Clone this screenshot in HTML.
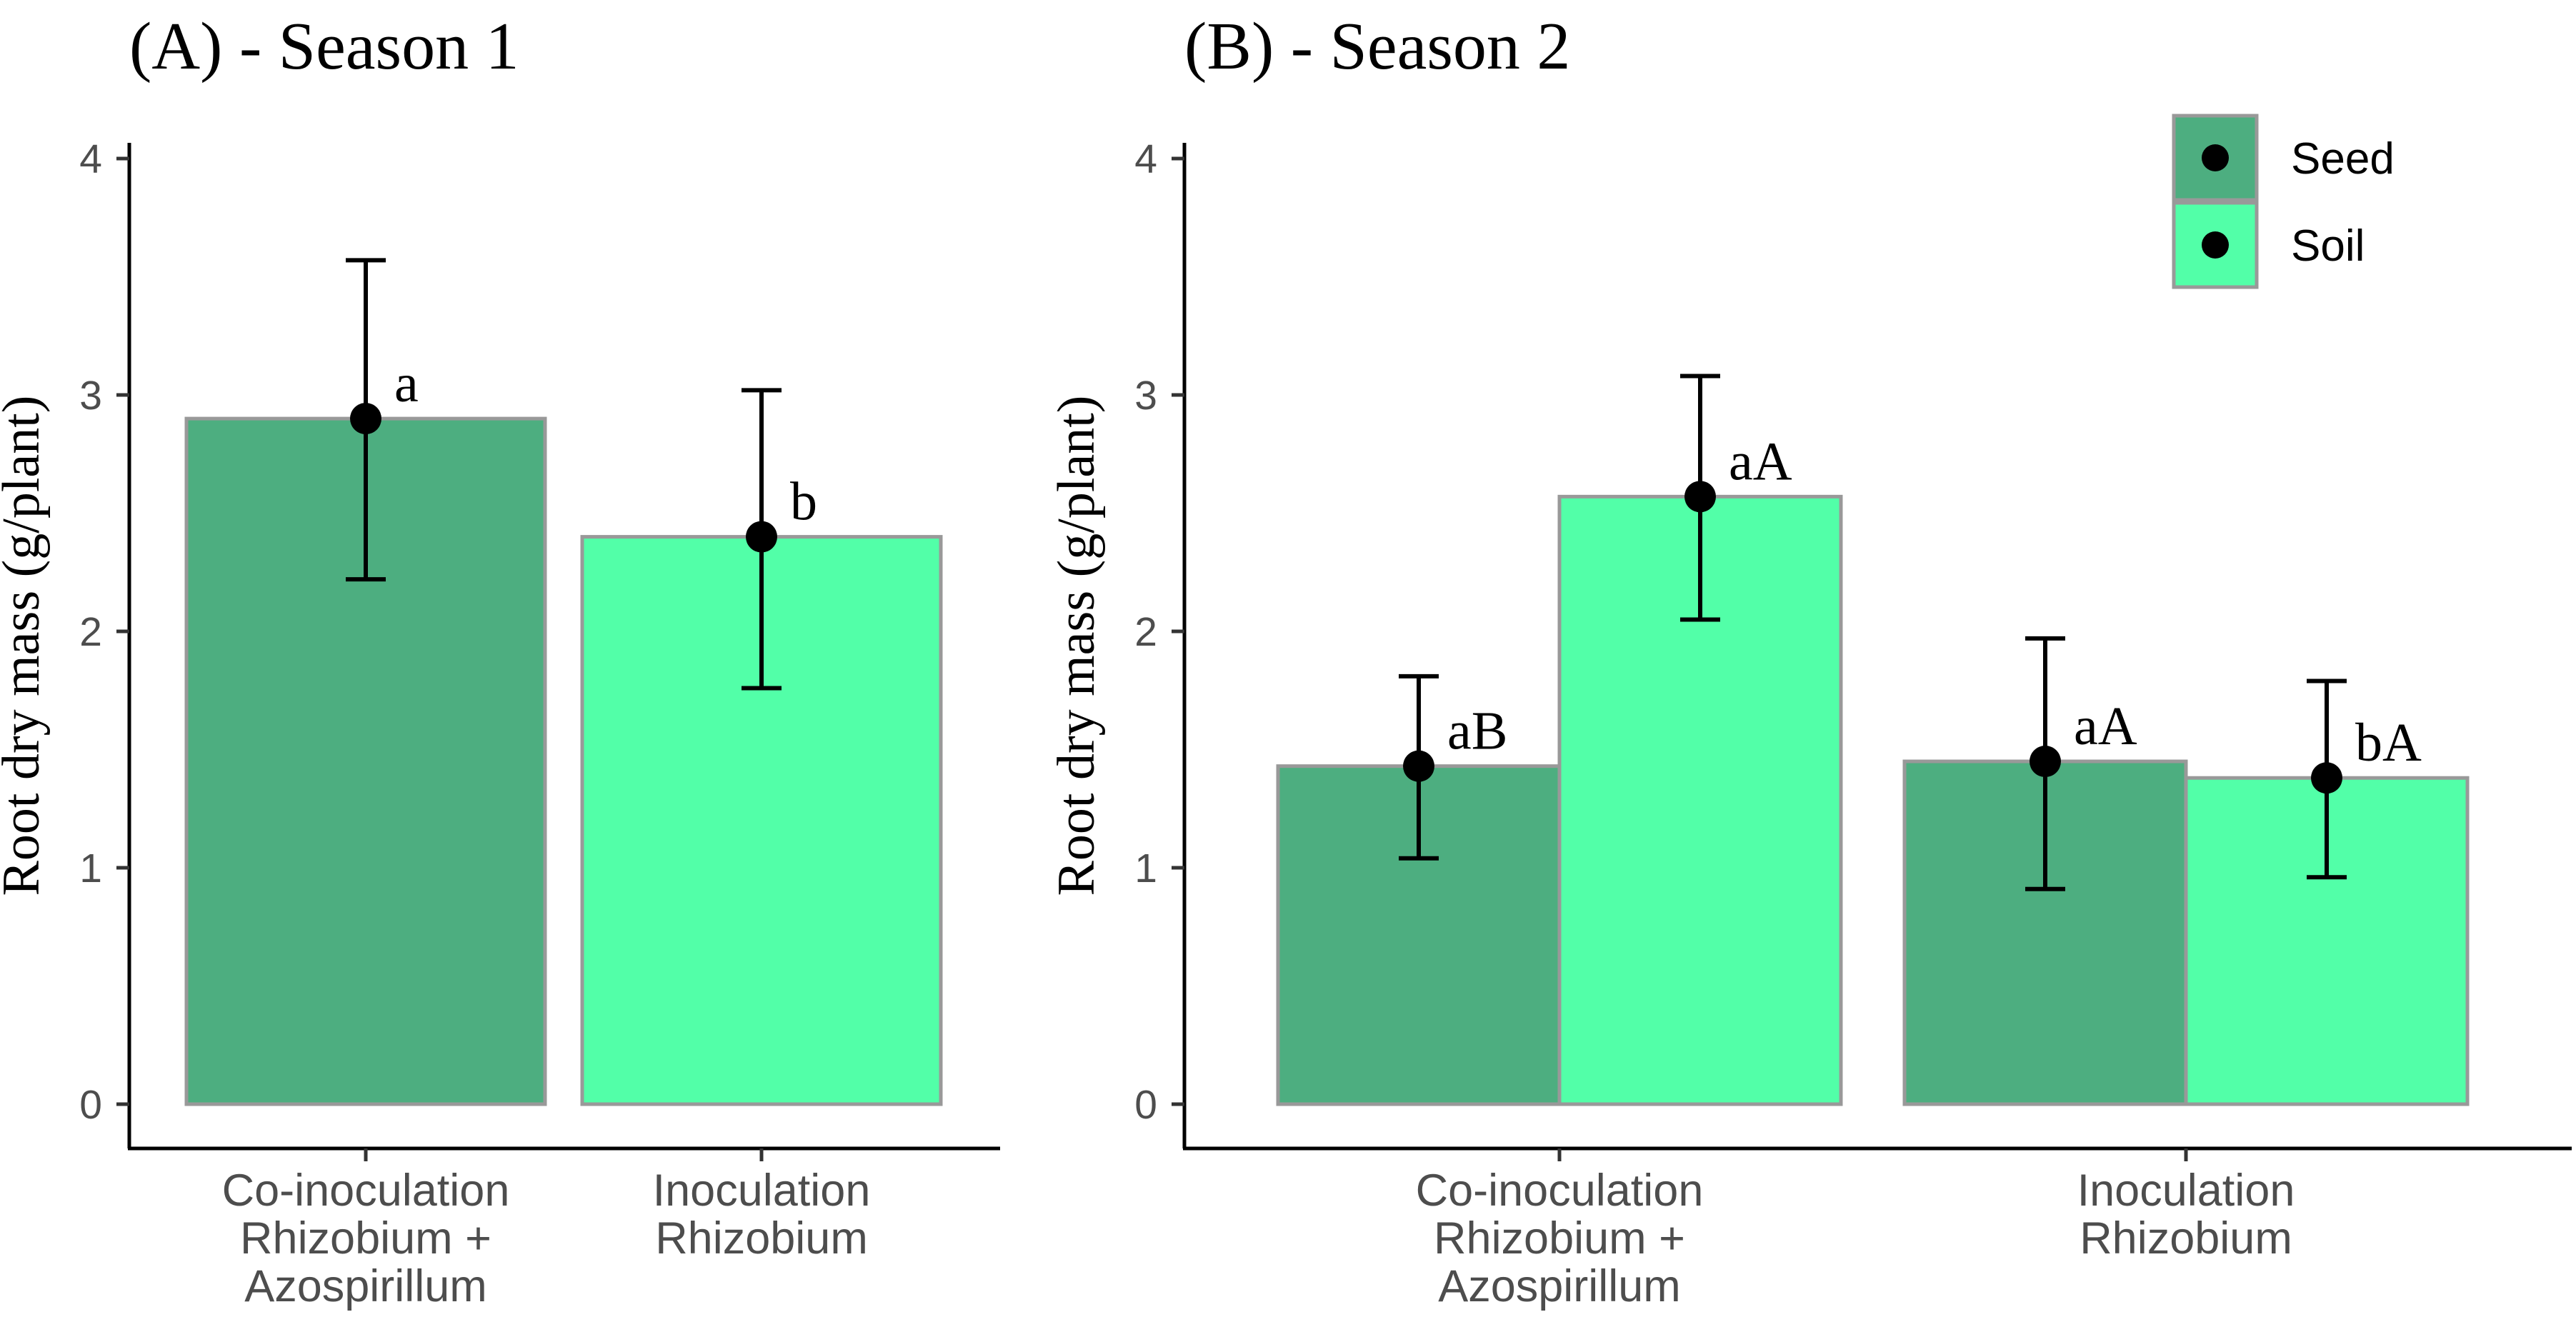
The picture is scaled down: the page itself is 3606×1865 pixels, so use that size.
<!DOCTYPE html>
<html><head><meta charset="utf-8"><style>
html,body{margin:0;padding:0;background:#fff;}
svg{display:block;}
.tick{font-family:"Liberation Sans",sans-serif;font-size:57px;fill:#4d4d4d;}
.xl{font-family:"Liberation Sans",sans-serif;font-size:63px;fill:#4d4d4d;}
.ttl{font-family:"Liberation Serif",serif;font-size:94px;fill:#000;}
.yt{font-family:"Liberation Serif",serif;font-size:74px;fill:#000;}
.lt{font-family:"Liberation Serif",serif;font-size:76px;fill:#000;}
.leg{font-family:"Liberation Sans",sans-serif;font-size:62px;fill:#000;}
</style></head><body>
<svg id="chart" width="3606" height="1865" viewBox="0 0 3606 1865" xmlns="http://www.w3.org/2000/svg"></svg>
<script>
const yTicks=[0,1,2,3,4];
const catsA=["Co-inoculation|Rhizobium +|Azospirillum","Inoculation|Rhizobium"];
const meanA=[2.9,2.4];
const lowA=[2.22,1.76];
const highA=[3.57,3.02];
const lettersA=["a","b"];
const seriesA=["Seed","Soil"];
const catsB=["Co-inoculation|Rhizobium +|Azospirillum","Inoculation|Rhizobium"];
const seedB=[1.43,1.45];
const soilB=[2.57,1.38];
const seedLowB=[1.04,0.91];
const seedHighB=[1.81,1.97];
const soilLowB=[2.05,0.96];
const soilHighB=[3.08,1.79];
const seedLetB=["aB","aA"];
const soilLetB=["aA","bA"];
const legendItems=["Seed","Soil"];
const COL={Seed:"#4dae80",Soil:"#52ffa8"};
const svg=document.getElementById('chart');
const NS="http://www.w3.org/2000/svg";
function mk(tag,attrs,parent,name,inter){const e=document.createElementNS(NS,tag);for(const k in attrs)e.setAttribute(k,attrs[k]);


(parent||svg).appendChild(e);return e;}
const Y0=1546,Y4=222;
function y(v){return Y0-(Y0-Y4)*v/4;}

function panel(ax,axEnd,title,catCenters,cats,prefix){
  const g=mk('g',{},svg,prefix+'-panel',false);
  const t=mk('text',{x:ax,y:96,class:'ttl'},g,prefix+'-title',false);t.textContent=title;
  const yt=mk('text',{x:0,y:0,class:'yt','text-anchor':'middle',transform:`translate(${ax-127},${(Y0+Y4)/2+20}) rotate(-90)`},g,'y-axis-title',false);yt.textContent="Root dry mass (g/plant)";
  mk('line',{x1:ax,y1:200,x2:ax,y2:1608,stroke:'#000','stroke-width':5},g,'y-axis-line',false);
  mk('line',{x1:ax-2,y1:1608,x2:axEnd,y2:1608,stroke:'#000','stroke-width':5},g,'x-axis-line',false);
  yTicks.forEach(v=>{
    mk('line',{x1:ax-18,y1:y(v),x2:ax,y2:y(v),stroke:'#333','stroke-width':5},g,'y-tick',false);
    const tl=mk('text',{x:ax-38,y:y(v)+20,class:'tick','text-anchor':'end'},g,'y-tick-label',false);tl.textContent=v;
  });
  cats.forEach((c,i)=>{
    const cx=catCenters[i];
    mk('line',{x1:cx,y1:1608,x2:cx,y2:1626,stroke:'#333','stroke-width':5},g,'x-tick',false);
    c.split('|').forEach((ln,j)=>{
      const tl=mk('text',{x:cx,y:1688+j*67,class:'xl','text-anchor':'middle'},g,'x-tick-label',false);tl.textContent=ln;
    });
  });
  return g;
}
function bar(g,x0,x1,v,color,name){mk('rect',{x:x0,y:y(v),width:x1-x0,height:Y0-y(v),fill:color,stroke:'#999','stroke-width':5},g,name,false);}
function err(g,cx,m,lo,hi,letter,name){
  mk('line',{x1:cx,y1:y(lo),x2:cx,y2:y(hi),stroke:'#000','stroke-width':6},g,name+'-errorbar',false);
  mk('line',{x1:cx-28,y1:y(lo),x2:cx+28,y2:y(lo),stroke:'#000','stroke-width':6},g,name+'-error-cap-low',false);
  mk('line',{x1:cx-28,y1:y(hi),x2:cx+28,y2:y(hi),stroke:'#000','stroke-width':6},g,name+'-error-cap-high',false);
  mk('circle',{cx:cx,cy:y(m),r:22,fill:'#000'},g,name+'-point',false);
  const t=mk('text',{x:cx+40,y:y(m)-24,class:'lt'},g,name+'-letter',false);t.textContent=letter;
}
// Panel A
const cA=[512,1066],hwA=251;
const gA=panel(181,1400,"(A) - Season 1",cA,catsA,'panel-a');
meanA.forEach((v,i)=>{bar(gA,cA[i]-hwA,cA[i]+hwA,v,COL[seriesA[i]],'bar-a-'+i);});
meanA.forEach((v,i)=>{err(gA,cA[i],v,lowA[i],highA[i],lettersA[i],'a-'+i);});
// Panel B
const cB=[2183,3060],bw=394;
const gB=panel(1658,3600,"(B) - Season 2",cB,catsB,'panel-b');
cB.forEach((cx,i)=>{
  bar(gB,cx-bw,cx,seedB[i],COL.Seed,'bar-b-seed-'+i);
  bar(gB,cx,cx+bw,soilB[i],COL.Soil,'bar-b-soil-'+i);
});
cB.forEach((cx,i)=>{
  err(gB,cx-bw/2,seedB[i],seedLowB[i],seedHighB[i],seedLetB[i],'b-seed-'+i);
  err(gB,cx+bw/2,soilB[i],soilLowB[i],soilHighB[i],soilLetB[i],'b-soil-'+i);
});
// Legend
const lg=mk('g',{},svg,'legend',false);
legendItems.forEach((s,i)=>{
  const yy=162+i*122;
  mk('rect',{x:3043,y:yy,width:116,height:118,fill:COL[s],stroke:'#999','stroke-width':5},lg,'legend-key-'+s.toLowerCase(),false);
  mk('circle',{cx:3101,cy:yy+59,r:19,fill:'#000'},lg,'legend-point-'+s.toLowerCase(),false);
  const t=mk('text',{x:3207,y:yy+81,class:'leg'},lg,'legend-label-'+s.toLowerCase(),false);t.textContent=s;
});
</script>
</body></html>
